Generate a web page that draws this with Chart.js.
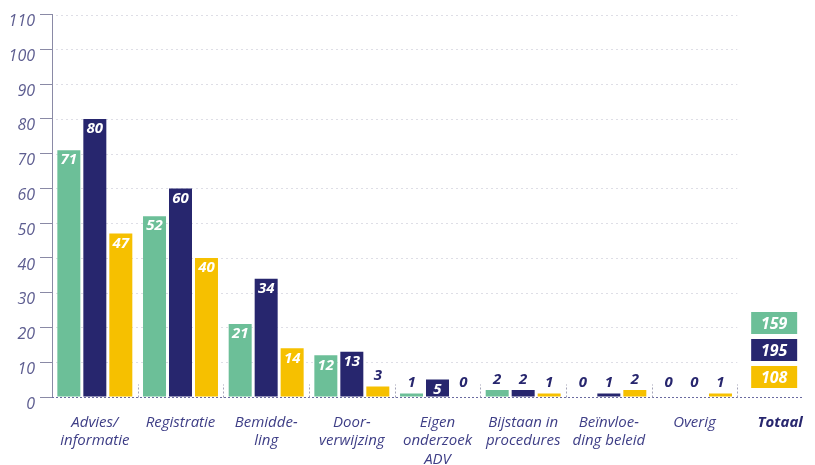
<!DOCTYPE html>
<html>
<head>
<meta charset="utf-8">
<script src="https://cdn.jsdelivr.net/npm/chart.js@4.4.1/dist/chart.umd.min.js"></script>
<style>
  html, body { margin: 0; padding: 0; background: #ffffff; overflow: hidden; }
  #wrap { position: relative; width: 840px; height: 465px; }
</style>
</head>
<body>
<div id="wrap"><canvas id="c"></canvas></div>
<script>
const categories = [
  ['Advies/', 'informatie'],
  ['Registratie'],
  ['Bemidde-', 'ling'],
  ['Door-', 'verwijzing'],
  ['Eigen', 'onderzoek', 'ADV'],
  ['Bijstaan in', 'procedures'],
  ['Beïnvloe-', 'ding beleid'],
  ['Overig'],
  ['Totaal']
];
const seriesGreen  = [71, 52, 21, 12, 1, 2, 0, 0, null];
const seriesNavy   = [80, 60, 34, 13, 5, 2, 1, 0, null];
const seriesYellow = [47, 40, 14, 3, 0, 1, 2, 1, null];
const totals = [159, 195, 108];
const yMin = 0, yMax = 110, yStep = 10;

const GREEN = '#6cbf98';
const NAVY = '#27266e';
const YELLOW = '#f6c000';
const colors = [GREEN, NAVY, YELLOW];
const FONT = '"Open Sans", "Noto Sans", sans-serif';

const decorPlugin = {
  id: 'decor',
  beforeDatasetsDraw(chart) {
    const { ctx, scales: { x, y } } = chart;
    const cw = x.getPixelForValue(1) - x.getPixelForValue(0);
    const gridEnd = x.getPixelForValue(categories.length - 1) - cw / 2;
    ctx.save();
    // faint dotted horizontal grid
    ctx.strokeStyle = '#dedee6';
    ctx.lineWidth = 1;
    ctx.setLineDash([2, 3]);
    for (let v = yStep; v <= yMax; v += yStep) {
      const py = Math.round(y.getPixelForValue(v)) + 0.5;
      ctx.beginPath();
      ctx.moveTo(x.left + 4, py);
      ctx.lineTo(gridEnd, py);
      ctx.stroke();
    }
    // baseline
    const by = Math.round(y.getPixelForValue(0)) + 0.5;
    ctx.strokeStyle = '#6a6aa0';
    ctx.setLineDash([2, 2]);
    ctx.beginPath();
    ctx.moveTo(x.left, by);
    ctx.lineTo(x.getPixelForValue(categories.length - 1) + 22, by);
    ctx.stroke();
    // category separators
    ctx.strokeStyle = '#a4a4b8';
    ctx.setLineDash([2, 2]);
    for (let i = 1; i < categories.length; i++) {
      const px = Math.round(x.getPixelForValue(i) - cw / 2) + 0.5;
      ctx.beginPath();
      ctx.moveTo(px, by);
      ctx.lineTo(px, by - 13);
      ctx.stroke();
    }
    ctx.restore();
  },
  afterDatasetsDraw(chart) {
    const { ctx, scales: { x, y } } = chart;
    ctx.save();
    ctx.font = 'italic bold 15px ' + FONT;
    ctx.textAlign = 'center';
    chart.data.datasets.forEach((ds, di) => {
      const meta = chart.getDatasetMeta(di);
      meta.data.forEach((bar, i) => {
        const v = ds.data[i];
        if (v === null || v === undefined) return;
        if (v >= 5) {
          ctx.fillStyle = '#ffffff';
          ctx.textBaseline = 'middle';
          ctx.fillText(String(v), bar.x, bar.y + 10);
        } else {
          ctx.fillStyle = NAVY;
          ctx.textBaseline = 'bottom';
          ctx.fillText(String(v), bar.x, Math.min(bar.y, y.getPixelForValue(1)) - 3);
        }
      });
    });
    // totals boxes
    const cx = x.getPixelForValue(categories.length - 1) - 6;
    const base = y.getPixelForValue(0);
    const bw = 46, bh = 22, gap = 5;
    ctx.font = 'italic bold 16px ' + FONT;
    ctx.textBaseline = 'middle';
    for (let k = 0; k < totals.length; k++) {
      const idx = totals.length - 1 - k;
      const bottom = base - 9 - k * (bh + gap);
      ctx.fillStyle = colors[idx];
      ctx.fillRect(cx - bw / 2, bottom - bh, bw, bh);
      ctx.fillStyle = '#ffffff';
      ctx.fillText(String(totals[idx]), cx, bottom - bh / 2 + 1);
    }
    ctx.restore();
  }
};

new Chart(document.getElementById('c'), {
  type: 'bar',
  data: {
    labels: categories,
    datasets: [
      { label: 'A', data: seriesGreen, backgroundColor: GREEN },
      { label: 'B', data: seriesNavy, backgroundColor: NAVY },
      { label: 'C', data: seriesYellow, backgroundColor: YELLOW }
    ]
  },
  options: {
    responsive: true,
    maintainAspectRatio: false,
    devicePixelRatio: 1,
    animation: false,
    layout: { padding: { top: 11, right: 17, left: 0, bottom: 0 } },
    plugins: { legend: { display: false }, tooltip: { enabled: false } },
    datasets: { bar: { categoryPercentage: 0.91, barPercentage: 0.885 } },
    scales: {
      x: {
        grid: { display: false, drawTicks: false },
        border: { display: false },
        ticks: {
          autoSkip: false,
          maxRotation: 0,
          minRotation: 0,
          padding: 16,
          color: (c) => c.index === categories.length - 1 ? NAVY : '#3e3e86',
          font: (c) => ({
            family: FONT,
            size: 15,
            style: 'italic',
            weight: c.index === categories.length - 1 ? 'bold' : 'normal',
            lineHeight: 1.25
          })
        },
        afterFit(s) { s.height = 68; }
      },
      y: {
        min: yMin,
        max: yMax,
        grid: { drawOnChartArea: false, drawTicks: true, tickLength: 12, tickColor: '#8a8aa6' },
        border: { display: true, color: '#8a8aa6', dash: [2, 2] },
        ticks: {
          stepSize: yStep,
          padding: 5,
          labelOffset: 7,
          color: '#5d5d90',
          font: { family: FONT, size: 16, style: 'italic' }
        },
        afterFit(s) { s.width = 52; }
      }
    }
  },
  plugins: [decorPlugin]
});
</script>
</body>
</html>
